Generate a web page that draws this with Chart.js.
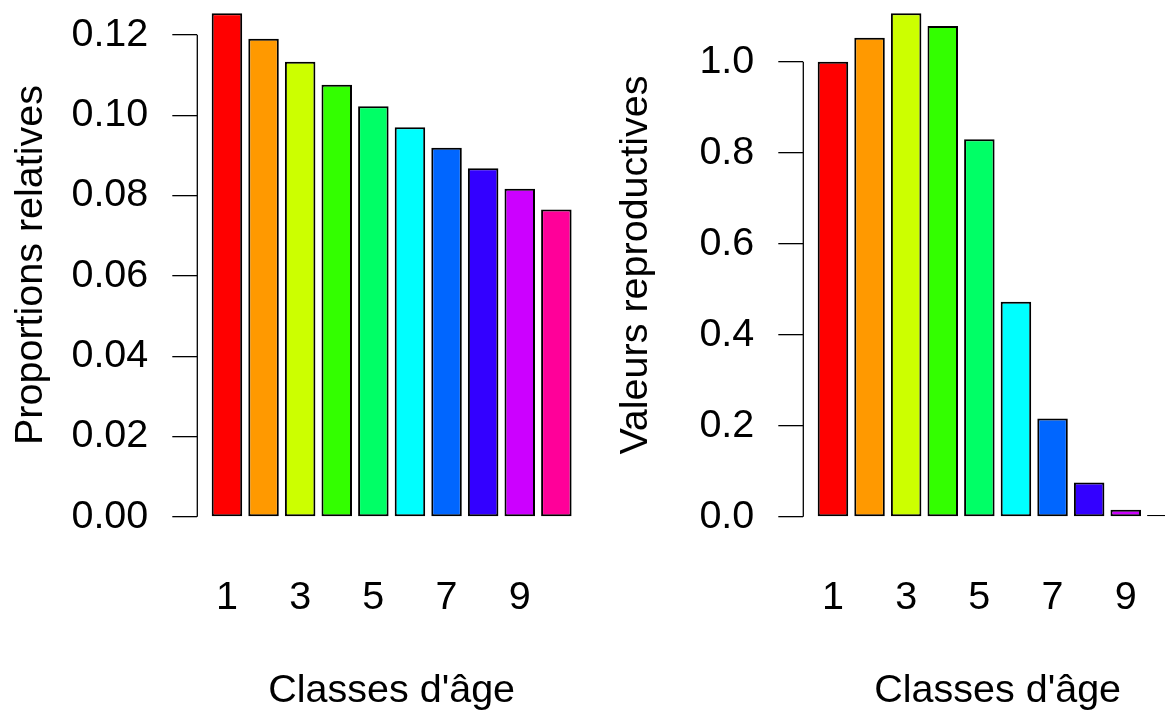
<!DOCTYPE html>
<html>
<head>
<meta charset="utf-8">
<script src="https://cdn.jsdelivr.net/npm/chart.js@4"></script>
<style>
  html, body { margin: 0; padding: 0; background: #fff; overflow: hidden; width: 1169px; height: 715px; }
  .panel { position: absolute; top: 0; height: 715px; overflow: hidden; }
  canvas { position: absolute; left: 0; top: -7px; }
  #leftPanel { left: 0; width: 586px; }
  #rightPanel { left: 585px; width: 580px; }
</style>
</head>
<body>
<div class="panel" id="leftPanel"><canvas id="left" width="586" height="722"></canvas></div>
<div class="panel" id="rightPanel"><canvas id="right" width="607" height="722"></canvas></div>
<script>
// age classes and the two series
const categories = ['1', '2', '3', '4', '5', '6', '7', '8', '9', '10'];
const proportions = [0.1254, 0.1190, 0.1133, 0.1076, 0.1022, 0.0970, 0.0919, 0.0868, 0.0817, 0.0765];
const reproValues = [1.000, 1.053, 1.107, 1.079, 0.830, 0.4725, 0.216, 0.0754, 0.0154, 0.004];
const leftTicks = [0, 0.02, 0.04, 0.06, 0.08, 0.10, 0.12];
const rightTicks = [0, 0.2, 0.4, 0.6, 0.8, 1.0];

// rainbow(10)
const barColors = ['#FF0000', '#FF9900', '#CCFF00', '#33FF00', '#00FF66',
                   '#00FFFF', '#0066FF', '#3300FF', '#CC00FF', '#FF0099'];

Chart.defaults.font.family = "'Liberation Sans', Arial, sans-serif";
Chart.defaults.font.size = 39.5;
Chart.defaults.color = '#000';

// axis line only from first to last tick, like R's axis()
const axisLine = {
  id: 'axisLine',
  afterDraw(chart) {
    const y = chart.scales.y, ctx = chart.ctx;
    const t = y.ticks;
    ctx.save();
    ctx.strokeStyle = '#000';
    ctx.lineWidth = 1.3;
    ctx.beginPath();
    ctx.moveTo(chart.chartArea.left, y.getPixelForValue(t[0].value));
    ctx.lineTo(chart.chartArea.left, y.getPixelForValue(t[t.length - 1].value));
    ctx.stroke();
    ctx.restore();
  }
};

function makeChart(id, values, yTicks, decimals, yTitle, yWidth, yTitlePad) {
  const vmax = Math.max(...values);
  const n = categories.length;
  new Chart(document.getElementById(id), {
    type: 'bar',
    data: {
      datasets: [{
        data: values.map((v, i) => ({ x: i, y: v })),
        backgroundColor: barColors,
        borderColor: '#000',
        borderWidth: 2,
        borderSkipped: false,
        barPercentage: 1 / 1.2,
        categoryPercentage: 1
      }]
    },
    options: {
      responsive: false,
      animation: false,
      events: [],
      layout: { padding: 0 },
      plugins: { legend: { display: false }, tooltip: { enabled: false } },
      scales: {
        x: {
          type: 'linear',
          offset: false,
          min: -0.41667 - 0.04 * (n - 1 + 0.8333),
          max: n - 1 + 0.41667 + 0.04 * (n - 1 + 0.8333),
          grid: { display: false },
          border: { display: false },
          ticks: {
            padding: 29,
            callback: v => categories[v]
          },
          afterBuildTicks: s => {
            s.ticks = categories.map((c, i) => ({ value: i })).filter(t => t.value % 2 === 0);
          },
          afterFit: s => { s.height = 178; s.paddingLeft = 0; s.paddingRight = 0; },
          title: { display: true, text: "Classes d'âge", padding: { top: 0, bottom: 0 } }
        },
        y: {
          min: -0.04 * vmax,
          max: 1.04 * vmax,
          grid: { display: true, drawOnChartArea: false, drawTicks: true, tickLength: 25, color: '#000', lineWidth: 1.3 },
          border: { display: false },
          ticks: {
            padding: 24,
            callback: v => v.toFixed(decimals)
          },
          afterBuildTicks: s => { s.ticks = yTicks.map(v => ({ value: v })); },
          afterFit: s => { s.width = yWidth; s.paddingTop = 0; s.paddingBottom = 0; },
          title: { display: true, text: yTitle, padding: { top: yTitlePad, bottom: 0 } }
        }
      }
    },
    plugins: [axisLine]
  });
}

makeChart('left', proportions, leftTicks, 2, 'Proportions relatives', 197.3, 7);
makeChart('right', reproValues, rightTicks, 1, 'Valeurs reproductives', 218.3, 27);
</script>
</body>
</html>
